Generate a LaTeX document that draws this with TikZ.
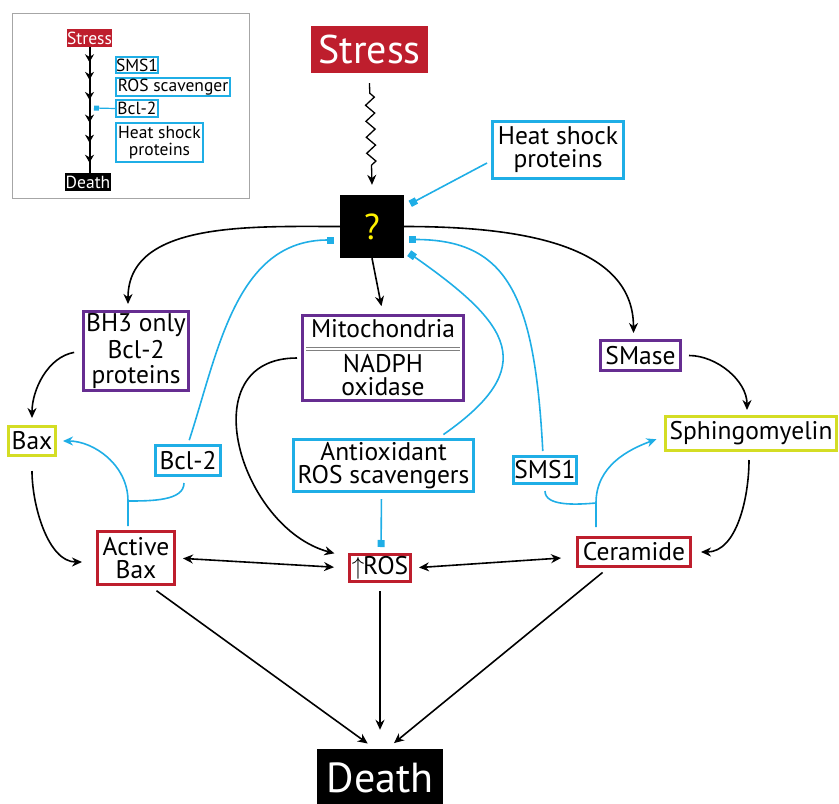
\documentclass[tikz,border=0pt]{standalone}
\usepackage{fontspec}
\setmainfont{PT Sans}
\usetikzlibrary{arrows.meta,decorations.pathmorphing,decorations.markings}
\definecolor{stressred}{HTML}{BE1E2D}
\definecolor{enzpurple}{HTML}{662D91}
\definecolor{protblue}{HTML}{1FAEE6}
\definecolor{lipidgreen}{HTML}{D4DD24}
\definecolor{qyellow}{HTML}{FFF200}

\begin{document}
\begin{tikzpicture}[x=1pt,y=1pt,
    lbl/.style={inner sep=0pt,align=center,font=\fontsize{25.5}{23}\selectfont},
    redbox/.style={lbl,draw=stressred,line width=3pt},
    purplebox/.style={lbl,draw=enzpurple,line width=3pt},
    bluebox/.style={lbl,draw=protblue,line width=3pt},
    greenbox/.style={lbl,draw=lipidgreen,line width=3pt},
    blackbox/.style={inner sep=0pt,fill=black,text=white},
    smallbox/.style={inner sep=0pt,align=center,draw=protblue,line width=1.5pt,font=\fontsize{17.5}{17}\selectfont},
    act/.style={line width=1.6pt,-{Stealth[length=10pt,width=9pt]}},
    biact/.style={line width=1.6pt,{Stealth[length=10pt,width=9pt]}-{Stealth[length=10pt,width=9pt]}},
    blueline/.style={draw=protblue,line width=1.6pt},
    blueact/.style={blueline,-{Stealth[length=10pt,width=9pt]}},
    inh/.style={blueline,-{Square[length=7pt,width=7pt]}}]
  \useasboundingbox (0,0) rectangle (839,-804);

  % inset
  \draw[gray!70,line width=1pt] (12,-13) rectangle (249,-198);
  \node[blackbox,fill=stressred,font=\fontsize{17.5}{17}\selectfont,minimum width=43pt,minimum height=18pt] (istress) at (89.5,-38) {Stress};
  \node[blackbox,font=\fontsize{17.5}{17}\selectfont,minimum width=46pt,minimum height=18pt] (ideath) at (88,-182) {Death};
  \node[smallbox,minimum width=42pt,minimum height=16pt] (isms) at (137,-65) {SMS1};
  \node[smallbox,minimum width=114pt,minimum height=18pt] (iros) at (173,-87) {ROS scavenger};
  \node[smallbox,minimum width=42pt,minimum height=17pt] (ibcl) at (137,-108.5) {Bcl-2};
  \node[smallbox,minimum width=87pt,minimum height=39pt] (iheat) at (159.5,-142.5) {Heat shock\\proteins};
  \draw[line width=2pt,postaction={decorate},decoration={markings,
      mark=at position 0.12 with {\arrow{Stealth[length=8pt,width=9pt]}},
      mark=at position 0.26 with {\arrow{Stealth[length=8pt,width=9pt]}},
      mark=at position 0.42 with {\arrow{Stealth[length=8pt,width=9pt]}},
      mark=at position 0.6 with {\arrow{Stealth[length=8pt,width=9pt]}},
      mark=at position 0.76 with {\arrow{Stealth[length=8pt,width=9pt]}},
      mark=at position 0.92 with {\arrow{Stealth[length=8pt,width=9pt]}}}]
    (istress.south) -- (istress.south |- ideath.north);
  \coordinate (ibclend) at (94,-108);
  \draw[blueline,line width=1.2pt,-{Square[length=5pt,width=5pt]}] (ibcl.west) -- (ibclend);

  % main nodes
  \node[blackbox,fill=stressred,font=\fontsize{40}{40}\selectfont,minimum width=117pt,minimum height=47pt] (stress) at (369.5,-49.5) {Stress};
  \node[blackbox,text=qyellow,font=\fontsize{36}{36}\selectfont,minimum width=64pt,minimum height=63pt] (q) at (372,-226.5) {?};
  \node[bluebox,minimum width=131pt,minimum height=57pt] (heat) at (558,-150) {Heat shock\\proteins};
  \node[purplebox,minimum width=105pt,minimum height=79pt] (bh3) at (136,-351) {BH3 only\\[2pt]Bcl-2\\[2pt]proteins};
  \node[purplebox,minimum width=161pt,minimum height=85pt] (mito) at (383,-358) {Mitochondria\\[12pt]NADPH\\oxidase};
  \node[purplebox,minimum width=80pt,minimum height=30pt] (smase) at (640.5,-355.5) {SMase};
  \node[greenbox,minimum width=47pt,minimum height=29pt] (bax) at (32,-441) {Bax};
  \node[greenbox,minimum width=171pt,minimum height=34pt] (sphingo) at (751,-433.5) {Sphingomyelin};
  \node[bluebox,minimum width=65pt,minimum height=30pt] (bcl) at (188,-460.5) {Bcl-2};
  \node[bluebox,minimum width=180pt,minimum height=52pt] (antiox) at (383.5,-465.5) {Antioxidant\\ROS scavengers};
  \node[bluebox,minimum width=63pt,minimum height=27pt] (sms) at (545,-470) {SMS1};
  \node[redbox,minimum width=77pt,minimum height=53pt] (abax) at (136,-558) {Active\\Bax};
  \node[redbox,minimum width=61pt,minimum height=27pt] (ros) at (380,-568) {$\uparrow$\kern-1pt ROS};
  \node[redbox,minimum width=113pt,minimum height=29pt] (cer) at (634,-552) {Ceramide};
  \node[blackbox,font=\fontsize{42}{42}\selectfont,minimum width=126pt,minimum height=57pt] (death) at (380,-777.5) {Death};
  \draw[gray,line width=0.8pt] ([xshift=5pt,yshift=11pt]mito.west) -- ([xshift=-5pt,yshift=11pt]mito.east);
  \draw[gray,line width=0.8pt] ([xshift=5pt,yshift=7.5pt]mito.west) -- ([xshift=-5pt,yshift=7.5pt]mito.east);

  % black arrows
  \draw[act,line width=1.3pt,decorate,decoration={zigzag,amplitude=4.5pt,segment length=16pt,pre length=10pt,post length=16pt}]
    ([yshift=-10pt]stress.south) -- ([yshift=10pt]q.north);
  \draw[act,shorten >=6pt] (q.west) to[out=180,in=90] ([xshift=-8pt]bh3.north);
  \draw[act,shorten >=6pt] (q.east) to[out=0,in=90] ([xshift=-7pt]smase.north);
  \draw[act,shorten >=8pt] (q.south) -- (mito.north);
  \draw[act,shorten <=8pt,shorten >=7pt] (bh3.west) to[out=190,in=90] (bax.north);
  \draw[act,shorten <=14pt,shorten >=14pt] (bax.south) to[out=270,in=180] ([yshift=-4pt]abax.west);
  \draw[act,shorten <=4pt,shorten >=14pt] (mito.west) to[out=180,in=165,looseness=1.4] ([yshift=11pt]ros.west);
  \draw[biact,shorten <=7pt,shorten >=14pt] (abax.east) -- (ros.west);
  \draw[biact,shorten <=7pt,shorten >=15pt] (ros.east) -- ([yshift=-5pt]cer.west);
  \draw[act,shorten <=7pt,shorten >=5pt] (smase.east) to[out=0,in=90] ([xshift=-4pt]sphingo.north);
  \draw[act,shorten <=8pt,shorten >=9pt] ([xshift=-2pt]sphingo.south) to[out=270,in=0] (cer.east);
  \draw[act,shorten <=8pt,shorten >=9pt] ([xshift=14pt]abax.south) -- ([xshift=-5pt]death.north);
  \draw[act,shorten <=8pt,shorten >=19pt] (ros.south) -- (ros.south |- death.north);
  \draw[act,shorten <=7pt,shorten >=9pt] ([xshift=-26pt]cer.south) -- ([xshift=7pt]death.north);

  % blue inhibitions
  \draw[inh] ([xshift=-4pt,yshift=-13pt]heat.west) -- ([xshift=6pt,yshift=-9pt]q.north east);
  \draw[inh,shorten <=4pt] (bcl.north) to[out=72,in=180] ([xshift=-6pt,yshift=-13.5pt]q.west);
  \draw[inh,shorten <=6pt] ([xshift=55pt]antiox.north) to[out=35,in=-35,looseness=1.7] ([xshift=5pt,yshift=5pt]q.south east);
  \draw[inh,shorten <=4pt] ([xshift=-2pt]sms.north) to[out=93,in=0,out looseness=1.6,in looseness=1] ([xshift=5pt,yshift=-13pt]q.east);
  \draw[inh,shorten <=6pt,shorten >=6pt] ([xshift=-2pt]antiox.south) -- ([xshift=1pt]ros.north);
  \coordinate (jbax) at (128,-501);
  \draw[blueact,shorten <=4pt,shorten >=6pt] ([xshift=-8pt]abax.north) -- (jbax) to[out=90,in=0] (bax.east);
  \draw[blueline,shorten <=6pt] ([xshift=-4pt]bcl.south) to[out=270,in=0] (jbax);
  \coordinate (jcer) at (596,-503);
  \draw[blueact,shorten <=9pt,shorten >=8pt] ([xshift=-38pt]cer.north) -- (jcer) to[out=90,in=200] ([yshift=-3pt]sphingo.west);
  \draw[blueline,shorten <=6pt] (sms.south) to[out=270,in=185] (jcer);
\end{tikzpicture}
\end{document}
